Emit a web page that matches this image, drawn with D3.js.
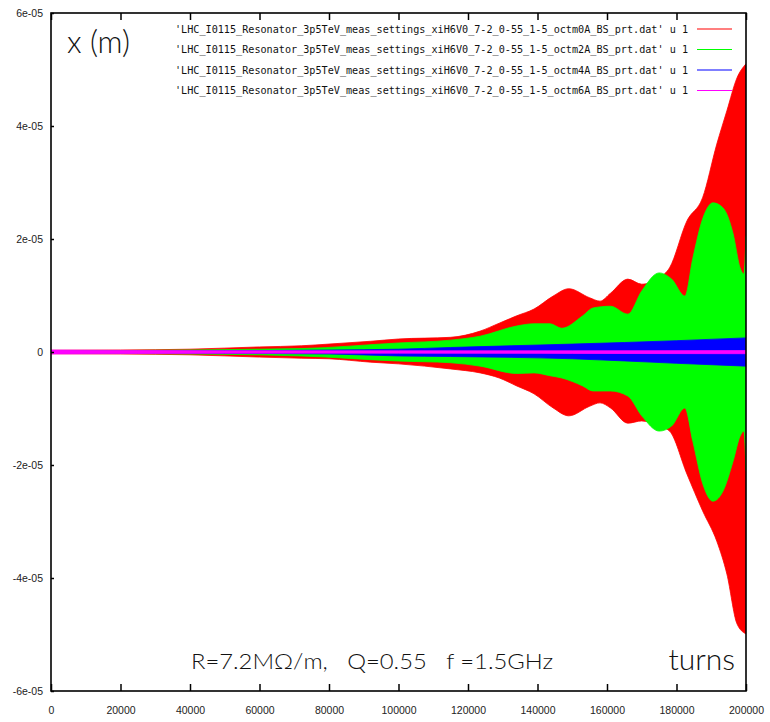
<!DOCTYPE html>
<html><head><meta charset="utf-8">
<script src="https://cdn.jsdelivr.net/npm/d3@7/dist/d3.min.js"></script>
<style>
html,body{margin:0;padding:0;background:#fff;}
svg{display:block;}
</style></head>
<body>
<svg id="chart" width="770" height="722"></svg>
<script>
// values in units of 1e-5 m
const UNIT = 1e-5;
const xTicks = [0,20000,40000,60000,80000,100000,120000,140000,160000,180000,200000];
const yTicks = [-6e-5,-4e-5,-2e-5,0,2e-5,4e-5,6e-5];
const yTickLabels = ["-6e-05","-4e-05","-2e-05","0","2e-05","4e-05","6e-05"];

const seriesNames = [
 "'LHC_I0115_Resonator_3p5TeV_meas_settings_xiH6V0_7-2_0-55_1-5_octm0A_BS_prt.dat' u 1",
 "'LHC_I0115_Resonator_3p5TeV_meas_settings_xiH6V0_7-2_0-55_1-5_octm2A_BS_prt.dat' u 1",
 "'LHC_I0115_Resonator_3p5TeV_meas_settings_xiH6V0_7-2_0-55_1-5_octm4A_BS_prt.dat' u 1",
 "'LHC_I0115_Resonator_3p5TeV_meas_settings_xiH6V0_7-2_0-55_1-5_octm6A_BS_prt.dat' u 1"
];
const seriesColors = ["#ff0000","#00ff00","#0000ff","#ff00ff"];

// octm0A (red) envelope
const redTurns = [0,20000,40000,60000,72000,80000,92000,100000,115000,123500,129000,134000,139000,144500,149000,155000,158000,161000,166000,170000,175000,178000,183000,187500,191600,194500,197400,200000];
const redUpper = [0.03,0.035,0.05,0.09,0.11,0.14,0.19,0.23,0.26,0.37,0.51,0.64,0.76,0.99,1.12,0.96,0.90,1.04,1.29,1.20,1.31,1.49,2.32,2.73,3.68,4.27,4.85,5.1];
const redLower = [-0.03,-0.035,-0.05,-0.09,-0.11,-0.12,-0.18,-0.21,-0.30,-0.37,-0.46,-0.60,-0.74,-0.99,-1.13,-0.96,-0.90,-0.99,-1.26,-1.22,-1.31,-1.40,-2.16,-2.81,-3.35,-3.93,-4.81,-4.99];

// octm2A (green) envelope
const greenTurns = [0,40000,60000,72000,100000,115000,123500,134000,139000,143600,147000,153000,156000,161000,166000,170000,175000,178600,182400,184700,187600,190500,193400,196300,198300,199400,200000];
const greenUpper = [0.02,0.035,0.05,0.06,0.16,0.21,0.28,0.46,0.50,0.50,0.42,0.64,0.78,0.81,0.67,1.08,1.40,1.29,0.99,1.66,2.37,2.64,2.55,2.09,1.49,1.38,2.05];
const greenLower = [-0.02,-0.035,-0.05,-0.07,-0.16,-0.19,-0.25,-0.38,-0.37,-0.42,-0.46,-0.60,-0.69,-0.69,-0.78,-1.13,-1.40,-1.31,-0.99,-1.58,-2.34,-2.64,-2.46,-1.93,-1.49,-1.40,-2.1];

// octm4A (blue) envelope
const blueTurns = [0,40000,80000,100000,115000,150000,180000,200000];
const blueUpper = [0.015,0.02,0.035,0.05,0.08,0.14,0.20,0.25];
const blueLower = [-0.015,-0.02,-0.035,-0.07,-0.08,-0.12,-0.20,-0.25];

// octm6A (magenta) envelope
const magTurns = [0,50000,100000,150000,200000];
const magUpper = [0.035,0.022,0.02,0.02,0.025];
const magLower = [-0.035,-0.022,-0.02,-0.025,-0.03];

const svg = d3.select("#chart");
const L = 51, R = 746, T = 13, B = 691;
const x = d3.scaleLinear().domain([0,200000]).range([L,R]);
const y = d3.scaleLinear().domain([-6e-5,6e-5]).range([B,T]);

svg.append("defs").append("clipPath").attr("id","clip")
  .append("rect").attr("x",L).attr("y",T).attr("width",R-L).attr("height",B-T);

const series = [
  {t:redTurns, u:redUpper, l:redLower},
  {t:greenTurns, u:greenUpper, l:greenLower},
  {t:blueTurns, u:blueUpper, l:blueLower},
  {t:magTurns, u:magUpper, l:magLower}
];

const area = d3.area()
  .curve(d3.curveMonotoneX)
  .x(d => x(d.t))
  .y0(d => y(d.l*UNIT))
  .y1(d => y(d.u*UNIT));

const g = svg.append("g").attr("clip-path","url(#clip)");
series.forEach((s,i) => {
  const data = s.t.map((t,k) => ({t:t, u:s.u[k], l:s.l[k]}));
  g.append("path").datum(data).attr("d",area)
    .attr("fill",seriesColors[i]).attr("stroke",seriesColors[i]).attr("stroke-width",0.8);
});

// axes
const tickFont = "'Liberation Sans', Arial, sans-serif";
const xb = svg.append("g").attr("transform",`translate(0,${B})`)
  .call(d3.axisBottom(x).tickValues(xTicks).tickSize(-7).tickPadding(16).tickFormat(d3.format("d")));
const xt = svg.append("g").attr("transform",`translate(0,${T})`)
  .call(d3.axisTop(x).tickValues(xTicks).tickSize(-7).tickFormat(""));
const yl = svg.append("g").attr("transform",`translate(${L},0)`)
  .call(d3.axisLeft(y).tickValues(yTicks).tickSize(-3).tickPadding(8).tickFormat((d,i)=>yTickLabels[i]));
[xb,xt,yl].forEach(a=>{
  a.select(".domain").remove();
  a.selectAll(".tick line").attr("stroke","#000").attr("stroke-width",1.5);
  a.selectAll(".tick text").attr("font-family",tickFont).attr("font-size","10.5px").attr("fill","#222");
});

// frame
svg.append("rect").attr("x",L).attr("y",T).attr("width",R-L).attr("height",B-T)
  .attr("fill","none").attr("stroke","#000").attr("stroke-width",1.6);

// legend
const legY = [29,49.5,70,90.5];
seriesNames.forEach((n,i)=>{
  svg.append("text").attr("x",688).attr("y",legY[i]+3.5)
    .attr("text-anchor","end").attr("font-family","'DejaVu Sans Mono', monospace")
    .attr("font-size","10px").attr("fill","#111")
    .attr("textLength",513).attr("lengthAdjust","spacingAndGlyphs").text(n);
  svg.append("line").attr("x1",697).attr("x2",732).attr("y1",legY[i]).attr("y2",legY[i])
    .attr("stroke",seriesColors[i]).attr("stroke-width",1.2);
});

// annotations
const annFont = "Lato, 'Open Sans', sans-serif";
svg.append("text").attr("x",67).attr("y",53).attr("font-family",annFont).attr("font-weight",300)
  .attr("font-size","31px").attr("fill","#111").text("x (m)");
svg.append("text").attr("x",191).attr("y",669).attr("font-family",annFont).attr("font-weight",300)
  .attr("font-size","22px").attr("fill","#111").attr("textLength",362).attr("lengthAdjust","spacingAndGlyphs")
  .attr("xml:space","preserve").text("R=7.2M\u03A9/m,   Q=0.55   f =1.5GHz");
svg.append("text").attr("x",735).attr("y",670).attr("text-anchor","end").attr("font-family",annFont).attr("font-weight",300)
  .attr("font-size","30px").attr("fill","#111").text("turns");
</script>
</body></html>
